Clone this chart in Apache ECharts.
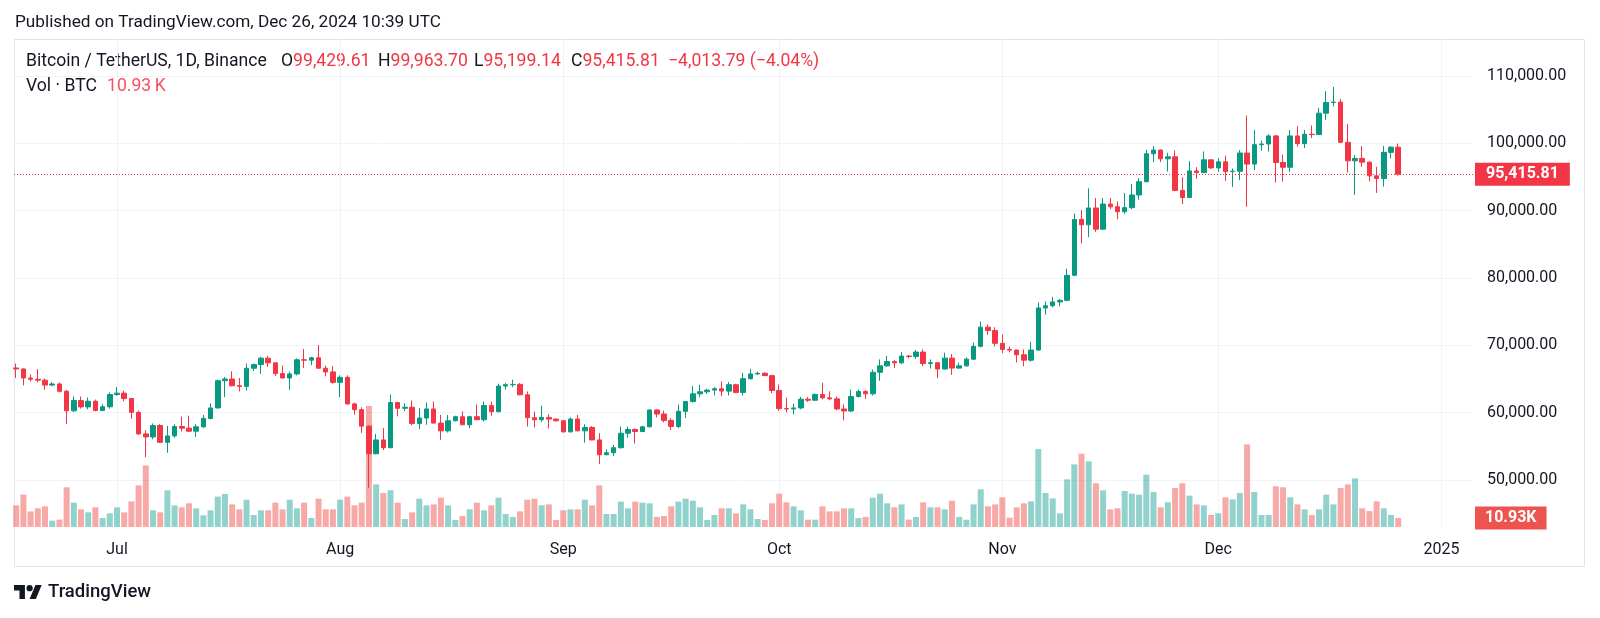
<!DOCTYPE html>
<html><head><meta charset="utf-8">
<script src="https://cdn.jsdelivr.net/npm/echarts@6/dist/echarts.min.js"></script>
<style>html,body{margin:0;padding:0;background:#fff}#c{width:1600px;height:618px}</style>
</head><body><div id="c"></div>
<script>
// ---- data ----
const firstDate = '2024-06-17';
const opens = [
66640,66490,65140,64960,64830,64100,64260,63180,60280,61800,60860,61700,60320,60880,
62700,62900,62100,60050,56850,56400,58100,55600,56550,57950,57700,57250,57900,59150,60700,64750,65000,64000,63900,66600,67150,68100,67400,65800,65150,65750,67850,67800,68150,66600,66050,
64500,65250,61300,60450,58000,53900,55950,54800,61500,60650,60800,58400,59200,60550,58450,57300,58800,59400,58200,59400,58950,61050,60150,63950,64150,64200,62650,59250,58950,59300,59050,
58800,57150,59050,57300,57800,55950,53750,54050,54800,56950,57500,57200,57900,60400,59800,58850,57950,60200,61650,62800,63100,63350,63550,63200,64150,63000,65050,65750,65850,65500,
63300,60600,60550,60700,62000,61850,62700,62200,62050,60550,60250,62400,63150,62800,66000,66950,67600,67400,68400,68350,69000,67300,67420,66480,68100,66620,66950,67950,69850,72700,72200,
70300,69400,69300,68600,67800,69300,75550,75880,76450,76680,80400,88700,87900,90400,87250,90980,90580,89850,90450,92330,94300,98450,99000,97700,98000,93000,91950,95900,95650,97550,
96350,97250,95800,95850,98560,96920,99800,99900,101100,97150,96450,101100,99950,101350,101300,104480,106070,106120,100150,97400,97760,97200,95170,94780,98660,99429.61];
const highs = [
67300,66560,65700,66480,65070,64520,64500,63370,62400,62400,62250,61950,61230,63000,
63800,63250,62200,60300,57400,58400,58300,58050,58250,59400,59550,58300,59650,61400,64900,65300,66150,65150,67300,67300,68300,68400,67450,67000,66100,68050,69450,68300,70050,67000,66900,
65550,65550,61500,60800,58150,56850,57700,62700,61600,61400,61800,60650,61500,61650,59700,59650,59550,60200,59550,61200,61650,61650,64300,64400,64900,64400,63150,60150,61050,59800,59100,
58900,59300,59650,58300,58000,56950,54550,55200,57950,57950,57650,58050,60500,60500,60300,59150,61200,61700,63950,64150,63550,63800,64650,64550,64300,65900,66500,66100,66000,65650,
64180,62240,61340,62340,62340,62840,64430,63180,62390,61240,63430,63430,63330,66420,67910,68410,67810,69000,68560,69300,69400,67910,67450,68910,68710,67410,68210,70400,73530,73080,72690,
71600,69800,69350,69400,70550,76380,76530,77180,76880,81370,89590,90080,93320,91880,91880,91880,91380,92620,93970,94820,99000,99600,99100,98600,98950,94970,97360,96460,98800,97610,
97810,98160,96270,99000,104130,101990,100400,101340,101240,98310,101990,102540,101990,102640,105270,107760,108360,106570,102890,98260,99600,97310,96520,99600,99600,99963.70];
const lows = [
65150,64050,64650,64530,63400,63950,63000,58300,60100,60600,60500,60200,60300,60600,
62500,61700,59100,56700,53400,56050,55550,54050,56300,57200,57100,56400,57700,59000,60650,62300,63900,63150,63300,66200,65750,66800,65450,65100,63400,65550,66650,67050,66550,65400,64300,
62300,61200,59700,57000,48800,53800,54450,54700,59450,60200,58150,57550,58200,58400,55950,57050,58700,58150,57700,58900,58700,59550,60050,63450,63800,62600,57950,57800,58650,57650,58650,
57050,57050,57250,55550,55900,52400,53700,53550,54650,56300,55400,57100,57800,59300,58550,57400,57700,59200,61500,62300,62800,62550,62450,62550,62900,62550,64900,65650,65450,62900,
60250,60050,59750,60500,61590,61740,61990,61840,60350,58860,60100,62240,62040,62540,64730,66820,66620,67210,68060,67960,66920,66570,65120,66420,65620,66520,66820,67860,69700,71540,69800,
68850,68950,67460,66900,67560,69200,74540,75630,75780,76530,80270,85150,86050,86840,87140,90230,88740,89540,90230,91630,94220,97210,97210,95810,92880,90980,91880,94720,95560,96210,
95760,94430,93530,94530,90600,96020,98900,98760,94180,94330,95770,99500,99300,100800,101250,103480,105470,100050,95670,92340,96520,94330,92640,93580,97760,95199.14];
const closes = [
66490,65140,64960,64830,64100,64260,63180,60280,61800,60860,61700,60320,60880,62700,
62900,62100,60050,56850,56400,58100,55600,56550,57950,57700,57250,57900,59150,60700,64750,65000,64000,63900,66600,67150,68100,67400,65800,65150,65750,67850,67800,68150,66600,66050,64500,
65250,61300,60450,58000,53900,55950,54800,61500,60650,60800,58400,59200,60550,58450,57300,58800,59400,58200,59400,58950,61050,60150,63950,64150,64200,62650,59250,58950,59300,59050,58800,
57150,59050,57300,57800,55950,53750,54050,54800,56950,57500,57200,57900,60400,59800,58850,57950,60200,61650,62800,63100,63350,63550,63200,64150,63000,65050,65750,65850,65500,63300,
60600,60550,60700,62000,61850,62700,62200,62050,60550,60250,62400,63150,62800,66000,66950,67600,67400,68400,68350,69000,67300,67420,66480,68100,66620,66950,67950,69850,72700,72200,70300,
69400,69300,68600,67800,69300,75550,75880,76450,76680,80400,88700,87900,90400,87250,90980,90580,89850,90450,92330,94300,98450,99000,97700,98000,93000,91950,95900,95650,97550,96350,
97250,95800,95850,98560,96920,99800,99900,101100,97150,96450,101100,99950,101350,101300,104480,106070,106120,100150,97400,97760,97200,95170,94780,98660,99429.61,95415.81];
// volume in thousands of BTC
const volumesK = [
26.3,39.3,19.0,22.7,25.1,7.7,8.9,48.2,29.6,21.5,17.8,23.9,10.9,16.6,
23.9,17.8,31.2,50.6,74.9,20.3,17.8,44.6,26.3,23.9,28.8,22.7,14.2,20.3,36.9,40.1,27.5,21.5,33.2,14.6,20.3,20.3,29.6,21.5,33.2,22.7,29.6,10.9,34.4,21.5,21.5,
33.2,36.9,26.3,29.6,147.0,51.8,41.3,44.6,29.6,9.7,17.8,34.4,26.3,27.5,35.6,26.3,8.5,13.4,21.5,29.6,20.3,26.3,35.6,15.8,12.2,19.0,33.2,34.4,26.3,27.5,8.5,
20.3,21.5,21.5,33.2,26.3,50.6,15.8,15.8,30.8,22.7,30.8,29.6,28.8,12.2,13.4,25.1,30.8,34.4,32.0,23.9,8.5,14.6,22.7,22.7,16.6,27.5,21.5,9.7,8.5,28.8,
40.5,30.0,25.1,20.3,8.9,8.9,25.1,19.0,19.0,22.7,22.7,10.9,12.2,35.6,40.5,28.8,23.9,27.5,8.9,12.2,30.0,23.9,23.9,21.5,32.0,12.2,8.9,27.5,45.8,25.1,27.5,
36.0,11.3,23.9,28.8,31.2,94.8,41.3,34.8,16.6,57.9,76.1,89.1,79.8,53.1,44.6,21.5,22.7,43.7,40.5,39.3,63.6,42.5,23.9,30.0,47.4,53.1,38.1,27.5,26.3,14.6,
16.6,36.0,33.6,41.3,100.4,42.5,14.6,14.6,49.4,48.2,36.0,27.5,21.5,14.6,21.5,39.3,27.5,47.4,51.8,59.1,22.7,19.4,31.2,22.7,14.6,10.93];
const monthTickDates = ['2024-07-01','2024-08-01','2024-09-01','2024-10-01','2024-11-01','2024-12-01','2025-01-01'];
const monthTickLabels = ['Jul','Aug','Sep','Oct','Nov','Dec','2025'];
const priceTicks = [50000,60000,70000,80000,90000,100000,110000];
const changeText = '\u22124,013.79 (\u22124.04%)';

// ---- helpers ----
const DAY = 86400000;
function dayNum(s){ const p = s.split('-').map(Number); return Date.UTC(p[0], p[1]-1, p[2]) / DAY; }
const x0 = dayNum(firstDate);
const xs = opens.map((_, i) => x0 + i);
const monthTicks = monthTickDates.map(dayNum);
const labelMap = {}; monthTicks.forEach((v, i) => labelMap[v] = monthTickLabels[i]);
const fmt = v => Number(v).toLocaleString('en-US', {minimumFractionDigits: 2, maximumFractionDigits: 2});
const jul1 = dayNum('2024-07-01');
const FONT = 'Roboto, "Noto Sans", sans-serif';
const TXT = '#131722', UP = '#089981', DOWN = '#f23645';
const VUP = 'rgba(38,166,154,0.5)', VDOWN = 'rgba(239,83,80,0.5)';
const n = opens.length;
const LEG = 17.6;
function ohlcText(x, key, val) {
  return {type: 'text', x: x, y: 62, style: {text: '{k|' + key + '}{v|' + fmt(val) + '}', verticalAlign: 'middle',
    rich: {k: {fontSize: LEG, fontFamily: FONT, fill: TXT}, v: {fontSize: LEG, fontFamily: FONT, fill: DOWN}}}};
}

const chart = echarts.init(document.getElementById('c'), null, {renderer: 'canvas'});
const option = {
  animation: false,
  backgroundColor: '#ffffff',
  grid: {left: 14, right: 127, top: 39, bottom: 91},
  xAxis: {
    type: 'value', min: jul1 - 14.31, max: jul1 + 188.39,
    axisLine: {show: false},
    axisTick: {show: false, customValues: monthTicks},
    axisLabel: {customValues: monthTicks, formatter: v => labelMap[v] || '', color: TXT, fontSize: 16, fontFamily: FONT, margin: 15},
    splitLine: {show: true, lineStyle: {color: '#f0f3fa', width: 1}}
  },
  yAxis: [{
    type: 'value', position: 'right', min: 43020, max: 115495,
    axisLine: {show: false},
    axisTick: {show: false, customValues: priceTicks},
    axisLabel: {customValues: priceTicks, formatter: v => fmt(v), color: TXT, fontSize: 16, fontFamily: FONT, margin: 14, align: 'left'},
    splitLine: {show: true, lineStyle: {color: '#f0f3fa', width: 1}}
  }, {
    type: 'value', min: 0, max: 593, show: false, splitLine: {show: false}
  }],
  series: [{
    type: 'bar', name: 'Vol', xAxisIndex: 0, yAxisIndex: 1, z: 1, barWidth: 6,
    data: xs.map((x, i) => ({value: [x, volumesK[i]], itemStyle: {color: closes[i] >= opens[i] ? VUP : VDOWN}})),
    markLine: {
      silent: true, symbol: ['none', 'none'], animation: false,
      lineStyle: {color: 'rgba(255,255,255,0)', width: 1, type: 'solid'},
      data: [{yAxis: volumesK[n - 1]}],
      label: {show: true, position: 'end', distance: 2, formatter: p => Number(p.value).toFixed(2) + 'K',
        backgroundColor: '#ef5350', color: '#fff', fontSize: 16, fontWeight: 'bold', fontFamily: FONT, padding: [4, 10, 3, 10]}
    }
  }, {
    type: 'candlestick', name: 'BTCUSDT', xAxisIndex: 0, yAxisIndex: 0, z: 3, barWidth: 5,
    dimensions: ['date', 'open', 'close', 'lowest', 'highest'],
    encode: {x: 0, y: [1, 2, 3, 4]},
    data: xs.map((x, i) => [x, opens[i], closes[i], lows[i], highs[i]]),
    itemStyle: {color: UP, color0: DOWN, borderColor: UP, borderColor0: DOWN, borderWidth: 1},
    markLine: {
      silent: true, symbol: ['none', 'none'], animation: false,
      lineStyle: {color: DOWN, type: [1, 2], width: 1},
      data: [{yAxis: closes[n - 1]}],
      label: {position: 'end', distance: 2, formatter: p => fmt(p.value),
        backgroundColor: DOWN, color: '#fff', fontSize: 16, fontWeight: 'bold', fontFamily: FONT, padding: [4, 11, 3, 11]}
    }
  }],
  graphic: [
    {type: 'rect', silent: true, shape: {x: 14.5, y: 39.5, width: 1570, height: 527}, style: {fill: 'none', stroke: '#e0e3eb', lineWidth: 1}},
    {type: 'text', x: 15, y: 23, style: {text: 'Published on TradingView.com, Dec 26, 2024 10:39 UTC', fontSize: 17.2, fontFamily: FONT, fill: TXT, verticalAlign: 'middle'}},
    {type: 'text', x: 26, y: 62, style: {text: 'Bitcoin / TetherUS, 1D, Binance', fontSize: LEG, fontFamily: FONT, fill: TXT, verticalAlign: 'middle'}},
    ohlcText(281, 'O', opens[n-1]),
    ohlcText(378, 'H', highs[n-1]),
    ohlcText(474, 'L', lows[n-1]),
    ohlcText(571, 'C', closes[n-1]),
    {type: 'text', x: 668, y: 62, style: {text: changeText, fontSize: LEG, fontFamily: FONT, fill: DOWN, verticalAlign: 'middle'}},
    {type: 'text', x: 26, y: 87, style: {text: 'Vol \u00b7 BTC', fontSize: LEG, fontFamily: FONT, fill: TXT, verticalAlign: 'middle'}},
    {type: 'text', x: 107, y: 87, style: {text: volumesK[n-1].toFixed(2) + '\u2009K', fontSize: LEG, fontFamily: FONT, fill: '#f7525f', verticalAlign: 'middle'}},
    {type: 'group', x: 14, y: 581.9, scaleX: 0.78, scaleY: 0.78, silent: true, children: [
      {type: 'polygon', shape: {points: [[14,22],[7,22],[7,11],[0,11],[0,4],[14,4]]}, style: {fill: TXT}},
      {type: 'polygon', shape: {points: [[28,22],[20,22],[27.5,4],[35.5,4]]}, style: {fill: TXT}},
      {type: 'circle', shape: {cx: 20, cy: 8, r: 4}, style: {fill: TXT}}
    ]},
    {type: 'text', x: 48, y: 592, style: {text: 'TradingView', fontSize: 18.5, fontWeight: 500, fontFamily: FONT, fill: TXT, verticalAlign: 'middle'}}
  ]
};
chart.setOption(option);
</script>
</body></html>
